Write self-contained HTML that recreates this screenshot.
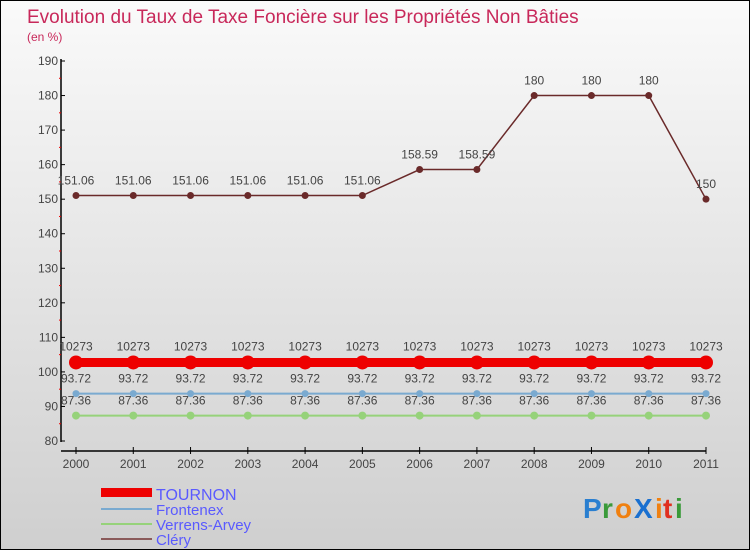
<!DOCTYPE html>
<html><head><meta charset="utf-8"><style>
body{margin:0}
#wrap{width:748px;height:548px;border:1px solid #000;background:linear-gradient(#fafafa,#cfcfcf);position:relative;overflow:hidden;font-family:"Liberation Sans",sans-serif}
</style></head><body>
<div id="wrap">
<svg id="svg" width="748" height="548" xmlns="http://www.w3.org/2000/svg">
<text x="26" y="22" font-size="19" fill="#c8285a">Evolution du Taux de Taxe Foncière sur les Propriétés Non Bâties</text>
<text x="26" y="40" font-size="12" fill="#c8285a">(en %)</text>
<g id="axes"></g><g id="series"></g>
<g>
<rect x="100" y="487" width="51" height="9" fill="#e00"/>
<text x="155" y="499" font-size="16" fill="#5a5aff">TOURNON</text>
<line x1="100" y1="508" x2="151" y2="508" stroke="#7aaad0" stroke-width="2"/>
<text x="155" y="514" font-size="15" fill="#5a5aff">Frontenex</text>
<line x1="100" y1="523" x2="151" y2="523" stroke="#96d27a" stroke-width="2"/>
<text x="155" y="529" font-size="15" fill="#5a5aff">Verrens-Arvey</text>
<line x1="100" y1="538" x2="151" y2="538" stroke="#8a5a5a" stroke-width="2"/>
<text x="155" y="544" font-size="15" fill="#5a5aff">Cléry</text>
</g>
<g font-size="28" font-weight="bold">
<text x="582" y="517" fill="#2a7fd0">P</text><text x="601" y="517" fill="#3a9a3a">r</text><text x="614" y="517" fill="#f08010">o</text><text x="633" y="517" fill="#1a70d0">X</text><text x="654" y="517" fill="#f08010">i</text><text x="662" y="517" fill="#e03020">t</text><text x="674" y="517" fill="#3a9a3a">i</text>
</g>
</svg></div>
<script>
const years=[2000,2001,2002,2003,2004,2005,2006,2007,2008,2009,2010,2011];
const tournon=[102.73,102.73,102.73,102.73,102.73,102.73,102.73,102.73,102.73,102.73,102.73,102.73];
const frontenex=[93.72,93.72,93.72,93.72,93.72,93.72,93.72,93.72,93.72,93.72,93.72,93.72];
const verrens=[87.36,87.36,87.36,87.36,87.36,87.36,87.36,87.36,87.36,87.36,87.36,87.36];
const clery=[151.06,151.06,151.06,151.06,151.06,151.06,158.59,158.59,180,180,180,150];
const yTicks=[80,90,100,110,120,130,140,150,160,170,180,190];
const tournonLabels=["10273","10273","10273","10273","10273","10273","10273","10273","10273","10273","10273","10273"];
const NS="http://www.w3.org/2000/svg";
const x=i=>75+i*(705-75)/11;
const y=v=>440-(v-80)*(380/110);
function mk(t,a,p){const e=document.createElementNS(NS,t);for(const k in a)e.setAttribute(k,a[k]);p.appendChild(e);return e;}
const axes=document.getElementById('axes'),ser=document.getElementById('series');
const ya=mk('line',{x1:60,y1:58,x2:60,y2:441,stroke:'#000','stroke-width':1.5},axes);


yTicks.forEach(v=>{mk('line',{x1:60,y1:y(v),x2:64,y2:y(v),stroke:'#000'},axes);
 if(v<190)mk('line',{x1:58,y1:y(v+5),x2:60,y2:y(v+5),stroke:'#e00'},axes);
 const t=mk('text',{x:57,y:y(v)+4,'font-size':12,fill:'#444','text-anchor':'end'},axes);t.textContent=v;
 
 });
const xa=mk('line',{x1:60,y1:450,x2:705,y2:450,stroke:'#000','stroke-width':1.5},axes);


years.forEach((yr,i)=>{mk('line',{x1:x(i),y1:446,x2:x(i),y2:453,stroke:'#000'},axes);
 const t=mk('text',{x:x(i),y:467,'font-size':12,fill:'#444','text-anchor':'middle'},axes);t.textContent=yr;
 
 });
function series(name,vals,color,w,r,labels,dy){
 const g=mk('g',{},ser);
 
 
 mk('polyline',{points:vals.map((v,i)=>x(i)+','+y(v)).join(' '),fill:'none',stroke:color,'stroke-width':w},g);
 vals.forEach((v,i)=>{const c=mk('circle',{cx:x(i),cy:y(v),r:r,fill:color},g);
  
  
  const t=mk('text',{x:x(i),y:y(v)+dy,'font-size':12,fill:'#444','text-anchor':'middle'},g);
  t.textContent=labels?labels[i]:String(v);});
}
series('clery',clery,'#6a2a2a',1.5,3.5,null,-11);
series('verrens-arvey',verrens,'#96d27a',2,4,null,-11);
series('frontenex',frontenex,'#7aaad0',2,3.5,null,-11);
series('tournon',tournon,'#e00',9,7,tournonLabels,-12);
</script>
</body></html>
